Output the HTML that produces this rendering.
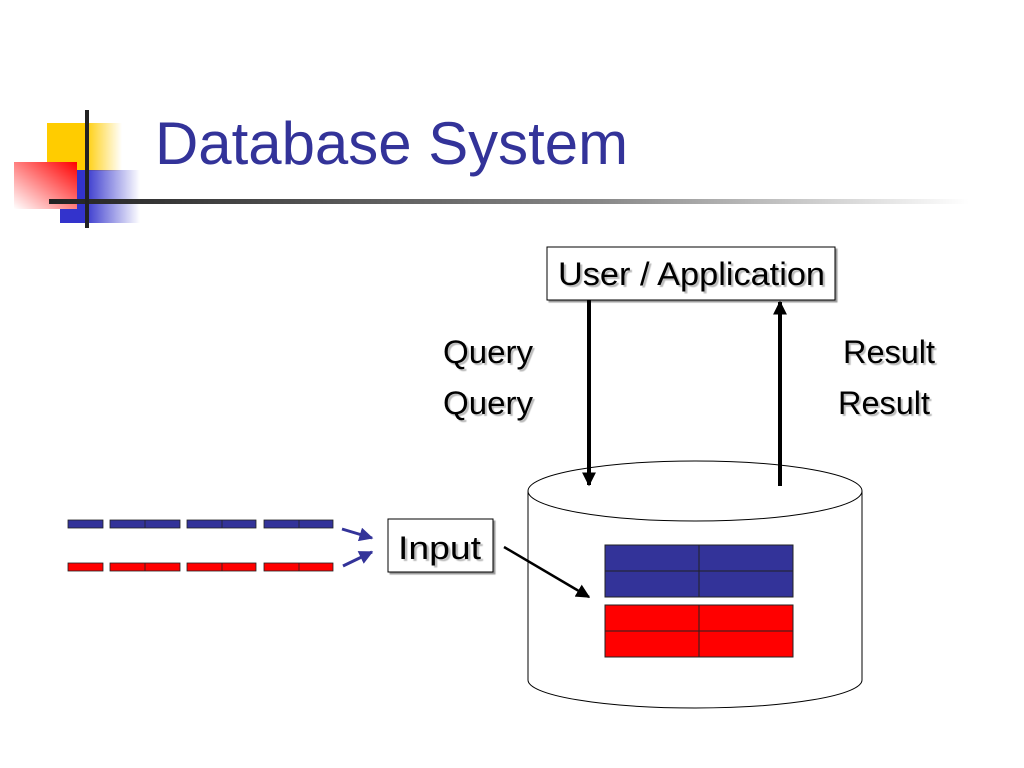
<!DOCTYPE html>
<html><head><meta charset="utf-8"><style>
html,body{margin:0;padding:0;background:#fff;width:1024px;height:768px;overflow:hidden}
svg text{font-family:"Liberation Sans",sans-serif}
</style></head><body>
<svg width="1024" height="768" viewBox="0 0 1024 768" xmlns="http://www.w3.org/2000/svg">
<defs>
<linearGradient id="gy" x1="0" x2="1"><stop offset="0.5" stop-color="#ffcc00"/><stop offset="1" stop-color="#ffcc00" stop-opacity="0"/></linearGradient>
<linearGradient id="gb" x1="0" x2="1"><stop offset="0.3" stop-color="#3333cc"/><stop offset="1" stop-color="#3333cc" stop-opacity="0"/></linearGradient>
<linearGradient id="gr" x1="1" y1="0" x2="0" y2="1"><stop offset="0" stop-color="#ff0000"/><stop offset="1" stop-color="#ff0000" stop-opacity="0"/></linearGradient>
<linearGradient id="gl" x1="0" x2="1"><stop offset="0" stop-color="#222"/><stop offset="0.6" stop-color="#888"/><stop offset="1" stop-color="#fff"/></linearGradient>
<filter id="sh" x="-10%" y="-10%" width="130%" height="140%"><feDropShadow dx="2" dy="2" stdDeviation="0.6" flood-color="#999"/></filter>
<marker id="ahs" viewBox="0 0 10 10" markerWidth="14" markerHeight="14" refX="9" refY="5" orient="auto" markerUnits="userSpaceOnUse"><path d="M0,0 L10,5 L0,10 z" fill="#000"/></marker>
<marker id="ahb" viewBox="0 0 10 10" markerWidth="14" markerHeight="14" refX="9" refY="5" orient="auto" markerUnits="userSpaceOnUse"><path d="M0,0 L10,5 L0,10 z" fill="#333399"/></marker>
</defs>
<rect x="47" y="123" width="75" height="48" fill="url(#gy)"/>
<rect x="60" y="170" width="80" height="53" fill="url(#gb)"/>
<rect x="14" y="162" width="63" height="47" fill="#fff"/>
<rect x="14" y="162" width="63" height="47" fill="url(#gr)"/>
<rect x="49" y="199" width="920" height="5" fill="url(#gl)"/>
<rect x="85" y="110" width="4" height="118" fill="#222"/>
<text x="155" y="164" font-size="60" fill="#333399" textLength="473" lengthAdjust="spacingAndGlyphs">Database System</text>
<rect x="547" y="247" width="288" height="53" fill="#fff" stroke="#000" stroke-width="1" filter="url(#sh)"/>
<text x="558" y="285" font-size="32" textLength="267" lengthAdjust="spacingAndGlyphs" style="text-shadow:2px 2px 1px #bbb">User / Application</text>
<g font-size="32" fill="#000" style="text-shadow:2px 2px 1px #bbb">
<text x="443" y="363" textLength="90" lengthAdjust="spacingAndGlyphs">Query</text>
<text x="443" y="414" textLength="90" lengthAdjust="spacingAndGlyphs">Query</text>
<text x="843" y="363" textLength="92" lengthAdjust="spacingAndGlyphs">Result</text>
<text x="838" y="414" textLength="92" lengthAdjust="spacingAndGlyphs">Result</text>
</g>
<path d="M528,491 L528,680 A167,28 0 0 0 862,680 L862,491" fill="#fff" stroke="#000" stroke-width="1"/>
<ellipse cx="695" cy="491" rx="167" ry="30" fill="#fff" stroke="#000" stroke-width="1"/>
<line x1="589" y1="300" x2="589" y2="485" stroke="#000" stroke-width="4" marker-end="url(#ahs)"/>
<line x1="780" y1="486" x2="780" y2="302" stroke="#000" stroke-width="4" marker-end="url(#ahs)"/>
<g stroke="#222" stroke-width="1">
<rect x="605" y="545" width="188" height="52" fill="#333399"/>
<line x1="605" y1="571" x2="793" y2="571"/><line x1="699" y1="545" x2="699" y2="597"/>
<rect x="605" y="605" width="188" height="52" fill="#ff0000"/>
<line x1="605" y1="631" x2="793" y2="631"/><line x1="699" y1="605" x2="699" y2="657"/>
</g>
<rect x="388" y="519" width="105" height="53" fill="#fff" stroke="#000" filter="url(#sh)"/>
<text x="398" y="559" font-size="32" textLength="83" lengthAdjust="spacingAndGlyphs" style="text-shadow:2px 2px 1px #bbb">Input</text>
<line x1="504" y1="547" x2="589" y2="597" stroke="#000" stroke-width="2.5" marker-end="url(#ahs)"/>
<g stroke="#222" stroke-width="0.8">
<rect x="68" y="520" width="35" height="8" fill="#333399"/>
<rect x="110" y="520" width="70" height="8" fill="#333399"/><line x1="145" y1="520" x2="145" y2="528"/>
<rect x="187" y="520" width="69" height="8" fill="#333399"/><line x1="222" y1="520" x2="222" y2="528"/>
<rect x="264" y="520" width="69" height="8" fill="#333399"/><line x1="299" y1="520" x2="299" y2="528"/>
<rect x="68" y="563" width="35" height="8" fill="#ff0000"/>
<rect x="110" y="563" width="70" height="8" fill="#ff0000"/><line x1="145" y1="563" x2="145" y2="571"/>
<rect x="187" y="563" width="69" height="8" fill="#ff0000"/><line x1="222" y1="563" x2="222" y2="571"/>
<rect x="264" y="563" width="69" height="8" fill="#ff0000"/><line x1="299" y1="563" x2="299" y2="571"/>
</g>
<line x1="342" y1="529" x2="372" y2="538" stroke="#333399" stroke-width="3" marker-end="url(#ahb)"/>
<line x1="343" y1="566" x2="372" y2="552" stroke="#333399" stroke-width="3" marker-end="url(#ahb)"/>
</svg>
</body></html>
